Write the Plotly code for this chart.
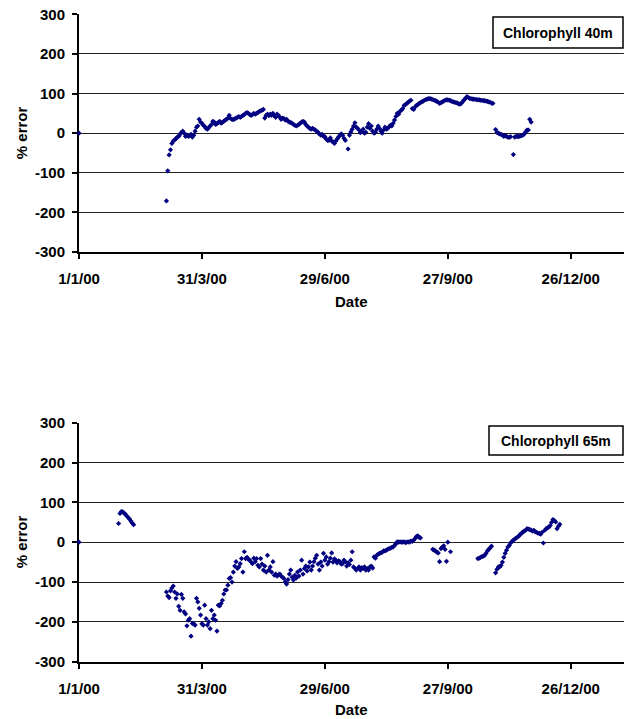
import plotly.graph_objects as go
import pandas as pd

# ---------------- data (day offset from 1/1/00, % error) ----------------
top_days = [0,
    64, 65, 66, 67, 68, 69, 70, 71, 72, 73, 74, 75, 76, 77, 78, 79, 80, 81, 82, 83, 84, 85, 86, 87, 88, 89,
    90, 91, 92, 93, 94, 95, 96, 97, 98, 99, 100, 101, 102, 103, 104, 105, 106, 107, 108, 109, 110, 111,
    112, 113, 114, 115, 116, 117, 118, 119, 120, 121, 122, 123, 124, 125, 126, 127, 128, 129, 130, 131,
    132, 133, 134, 135, 136, 137, 138, 139, 140, 141, 142, 143, 144, 145, 146, 147, 148, 149, 150, 151,
    152, 153, 154, 155, 156, 157, 158, 159, 160, 161, 162, 163, 164, 165, 166, 167, 168, 169, 170, 171,
    172, 173, 174, 175, 176, 177, 178, 179, 180, 181, 182, 183, 184, 185, 186, 187, 188, 189, 190, 191,
    192, 193, 194, 195, 197, 198, 199, 200, 201, 202, 203, 204, 205, 206, 207, 208, 209, 210, 211, 212,
    213, 214, 215, 216, 217, 218, 219, 220, 221, 222, 223, 224, 225, 226, 227, 228, 229, 230, 231, 232,
    233, 234, 235, 236, 237, 238, 239, 240, 241, 242, 243, 244, 245, 246, 247, 248, 249, 250, 251, 252,
    253, 254, 255, 256, 257, 258, 259, 260, 261, 262, 263, 264, 265, 266, 267, 268, 269, 270, 271, 272,
    273, 274, 275, 276, 277, 278, 279, 280, 281, 282, 283, 284, 285, 286, 287, 288, 289, 290, 291, 292,
    293, 294, 295, 296, 297, 298, 299, 300, 301, 302, 303,
    305, 306, 307, 308, 309, 310, 311, 312, 313, 314, 315, 316, 318, 319, 320, 321, 322, 323, 324, 325,
    326, 327, 328, 329, 330, 331]
top_err = [0,
    -171, -95, -55, -42, -26, -20, -17, -14, -10, -8, -3, 2, 5, 0, -8, -5, -8, -6, -3, -10, -5, 5, 15, 18, 35, 28,
    25, 20, 17, 12, 10, 14, 18, 22, 30, 28, 22, 24, 27, 30, 25, 27, 30, 33, 35, 38, 45, 37,
    35, 34, 36, 38, 40, 42, 40, 42, 45, 47, 50, 52, 50, 47, 45, 47, 50, 48, 50, 52,
    55, 56, 58, 60, 38, 45, 48, 44, 48, 45, 50, 44, 40, 48, 45, 40, 35, 38, 37, 33,
    35, 30, 28, 27, 25, 22, 20, 18, 20, 22, 25, 28, 30, 28, 22, 18, 15, 12, 10, 12,
    10, 8, 5, 2, -2, -5, -3, -8, -9, -15, -18, -18, -12, -20, -22, -26, -20, -15, -10, -5,
    -2, -5, -13, -18, -40, -5, 3, 10, 18, 26, 15, 12, 8, 1, 5, 10, 0, 2, 15, 24,
    12, 18, 5, 0, 2, 10, 18, 12, 5, 0, 8, 15, 10, 12, 16, 20, 18, 25, 33, 42,
    50, 48, 55, 58, 62, 70, 72, 75, 78, 81, 83, 62, 60, 66, 70, 72, 75, 77, 79, 81,
    83, 85, 86, 87, 87, 86, 85, 83, 82, 80, 78, 75, 77, 79, 81, 83, 84, 84, 83, 82,
    80, 79, 78, 77, 76, 74, 73, 76, 80, 84, 88, 92, 90, 88, 87, 86, 86, 85, 85, 84,
    84, 83, 83, 82, 82, 81, 80, 79, 78, 76, 75,
    9, 2, 0, -2, -3, -5, -8, -6, -8, -10, -11, -9, -54, -10, -8, -8, -9, -7, -6, -5,
    -2, 3, 8, 8, 35, 28]

bot_days = [0,
    29, 30, 31, 32, 33, 34, 35, 36, 37, 38, 39, 40,
    64, 65, 66, 67, 68, 69, 70, 71, 72, 73, 74, 75, 76, 77, 78, 79, 80, 81, 82, 83, 84, 85, 86, 87,
    88, 89, 90, 91, 92, 93, 94, 95, 96, 97, 98, 99, 100, 101, 102, 103, 104, 105, 106, 107, 108, 109,
    110, 111, 112, 113, 114, 115, 116, 117, 118, 119, 120, 121, 122, 123, 124, 125, 126, 127, 128, 129,
    130, 131, 132, 133, 134, 135, 136, 137, 138, 139, 140, 141, 142, 143, 144, 145, 146, 147, 148, 149,
    150, 151, 152, 153, 154, 155, 156, 157, 158, 159, 160, 161, 162, 163, 164, 165, 166, 167, 168, 169,
    170, 171, 172, 173, 174, 175, 176, 177, 178, 179, 180, 181, 182, 183, 184, 185, 186, 187, 188, 189,
    190, 191, 192, 193, 194, 195, 196, 197, 198, 199, 200, 201, 202, 203, 204, 205, 206, 207, 208, 209,
    210, 211, 212, 213, 214, 215, 216, 217, 218, 219, 220, 221, 222, 223, 224, 225, 226, 227, 228, 229,
    230, 231, 232, 233, 234, 235, 236, 237, 238, 239, 240, 241, 242, 243, 244, 245, 246, 247, 248, 249, 250,
    259, 260, 261, 262, 263, 264, 265, 266, 267, 268, 269, 270, 272,
    292, 293, 294, 295, 296, 297, 298, 299, 300, 301, 302,
    305, 306, 307, 308, 309, 310, 311, 312, 313, 314, 315, 316, 317, 318, 319, 320, 321, 322, 323, 324,
    325, 326, 327, 328, 329, 330, 331, 332, 333, 334, 335, 336, 337, 338, 339, 340, 341, 342, 343, 344,
    345, 346, 347, 348, 349, 350, 351, 352]
bot_err = [0,
    47, 72, 77, 76, 73, 70, 66, 62, 58, 53, 48, 44,
    -125, -135, -139, -122, -115, -110, -125, -141, -130, -161, -171, -131, -141, -175, -180, -210, -196, -192, -236, -204, -205, -208, -141, -150,
    -166, -183, -205, -208, -158, -192, -208, -200, -217, -171, -192, -183, -196, -223, -158, -160, -154, -146, -130, -120, -120, -108,
    -91, -89, -100, -75, -60, -49, -66, -62, -54, -41, -75, -24, -41, -38, -43, -45, -50, -54, -40, -49,
    -41, -58, -62, -41, -55, -70, -60, -75, -33, -70, -62, -75, -49, -83, -80, -85, -82, -80, -85, -88,
    -91, -100, -105, -94, -80, -70, -88, -95, -83, -90, -75, -85, -70, -45, -80, -66, -60, -72, -62, -50,
    -70, -60, -49, -40, -33, -55, -70, -50, -60, -28, -45, -37, -55, -49, -40, -27, -50, -42, -45, -52,
    -47, -49, -55, -54, -45, -49, -60, -52, -56, -45, -24, -62, -66, -70, -66, -62, -70, -64, -66, -62,
    -70, -66, -70, -62, -60, -65, -37, -40, -33, -30, -28, -27, -25, -22, -22, -20, -18, -16, -15, -13,
    -12, -8, -4, 1, 0, 1, 0, 0, 1, -1, 0, 1, 0, 3, 2, 5, 9, 14, 16, 12, 11,
    -18, -20, -22, -25, -27, -49, -16, -12, -9, -18, -48, 0, -24,
    -41, -40, -38, -36, -35, -33, -28, -22, -18, -14, -10,
    -77, -68, -62, -62, -58, -50, -38, -28, -20, -12, -8, -2, 2, 5, 8, 10, 13, 15, 20, 22,
    26, 28, 30, 34, 33, 32, 30, 28, 30, 26, 25, 23, 22, 20, 25, -2, 30, 34, 36, 38,
    42, 50, 57, 54, 51, 34, 40, 45]

tick_dates = ["2000-01-01", "2000-03-31", "2000-06-29", "2000-09-27", "2000-12-26"]
tick_text = ["1/1/00", "31/3/00", "29/6/00", "27/9/00", "26/12/00"]
y_ticks = [-300, -200, -100, 0, 100, 200, 300]
y_tick_text = ["-300", "-200", "-100", "0", "100", "200", "300"]
panel_labels = ["Chlorophyll 40m", "Chlorophyll 65m"]
y_title = "% error"
x_title = "Date"

# ---------------- figure ----------------
W, H = 625, 719
start = pd.Timestamp("2000-01-01")
top_x = [start + pd.Timedelta(days=d) for d in top_days]
bot_x = [start + pd.Timedelta(days=d) for d in bot_days]

FONT = "Liberation Sans, Arial, sans-serif"
NAVY = "#000080"

fig = go.Figure()
for xs, ys, xa, ya in [(top_x, top_err, "x", "y"), (bot_x, bot_err, "x2", "y2")]:
    fig.add_trace(go.Scatter(x=xs, y=ys, mode="markers", xaxis=xa, yaxis=ya,
                             marker=dict(symbol="diamond", size=4, color=NAVY, line=dict(width=0)),
                             showlegend=False, cliponaxis=False))

def px_x(p):
    return p / W

def px_y(p):
    return 1 - p / H

left_px, right_px = 79, 624
top_area = (14.3, 252.0)
bot_area = (422.7, 661.7)

xaxis_common = dict(
    type="date", range=["2000-01-01", "2001-02-03"],
    tickvals=tick_dates, ticktext=tick_text,
    ticks="outside", ticklen=5, tickwidth=1.5, tickcolor="black",
    showline=True, linecolor="black", linewidth=2,
    showgrid=False, zeroline=False, automargin=False, layer="below traces",
    tickfont=dict(family=FONT, size=15, color="black", weight="bold"),
    ticklabelstandoff=7,
    domain=[px_x(left_px), px_x(right_px)],
)
yaxis_common = dict(
    range=[-300, 300], tickvals=y_ticks, ticktext=y_tick_text,
    ticks="outside", ticklen=5, tickwidth=1.5, tickcolor="black",
    showline=True, linecolor="black", linewidth=2,
    showgrid=True, gridcolor="#222222", gridwidth=1,
    zeroline=False, automargin=False, layer="below traces",
    tickfont=dict(family=FONT, size=15, color="black", weight="bold"),
    ticklabelstandoff=4,
)

fig.update_layout(
    width=W, height=H,
    margin=dict(l=0, r=0, t=0, b=0, autoexpand=False),
    paper_bgcolor="white", plot_bgcolor="white",
    xaxis=dict(**xaxis_common, anchor="y"),
    yaxis=dict(**yaxis_common, anchor="x", domain=[px_y(top_area[1]), px_y(top_area[0])]),
    xaxis2=dict(**xaxis_common, anchor="y2"),
    yaxis2=dict(**yaxis_common, anchor="x2", domain=[px_y(bot_area[1]), px_y(bot_area[0])]),
    font=dict(family=FONT, color="black"),
)

boxes = [(493, 17, 623, 48), (489, 426, 623, 455)]
annotations = []
shapes = []
for (ytop, ybot), date_y, box in [(top_area, 302, boxes[0]), (bot_area, 709, boxes[1])]:
    annotations.append(dict(text=f"<b>{y_title}</b>", x=px_x(21), y=px_y((ytop + ybot) / 2),
                            xref="paper", yref="paper", showarrow=False, textangle=-90,
                            font=dict(family=FONT, size=15, color="black"),
                            xanchor="center", yanchor="middle"))
    annotations.append(dict(text=f"<b>{x_title}</b>", x=px_x(351), y=px_y(date_y),
                            xref="paper", yref="paper", showarrow=False,
                            font=dict(family=FONT, size=15, color="black"),
                            xanchor="center", yanchor="middle"))
    shapes.append(dict(type="rect", xref="paper", yref="paper",
                       x0=px_x(box[0]), x1=px_x(box[2]), y0=px_y(box[3]), y1=px_y(box[1]),
                       line=dict(color="black", width=1.5), fillcolor="white", layer="above"))

for lab, box in zip(panel_labels, boxes):
    annotations.append(dict(text=f"<b>{lab}</b>", x=px_x((box[0] + box[2]) / 2),
                            y=px_y((box[1] + box[3]) / 2), xref="paper", yref="paper",
                            showarrow=False, font=dict(family=FONT, size=14, color="black"),
                            xanchor="center", yanchor="middle"))

fig.update_layout(annotations=annotations, shapes=shapes)
fig.write_html("out.html")
